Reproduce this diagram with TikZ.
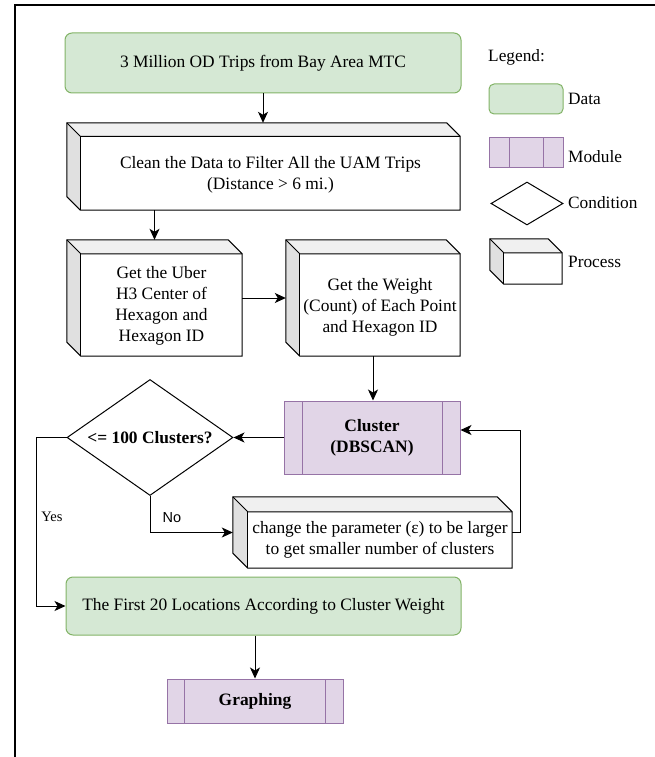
\documentclass[tikz,border=0pt]{standalone}
\usepackage{fontspec}
\setmainfont{Liberation Serif}
\newfontfamily\arialfont{Liberation Sans}
\usetikzlibrary{shapes.geometric,calc,arrows.meta}

\definecolor{datafill}{HTML}{D5E8D4}
\definecolor{dataline}{HTML}{82B366}
\definecolor{modfill}{HTML}{E1D5E7}
\definecolor{modline}{HTML}{9673A6}
\definecolor{cubetop}{HTML}{F0F0F0}
\definecolor{cubeside}{HTML}{E0E0E0}

\begin{document}
\begin{tikzpicture}[x=1pt,y=-1pt,
  every node/.style={font=\fontsize{17.4}{21}\selectfont, inner sep=0pt, align=center},
  datastyle/.style={draw=dataline, fill=datafill, line width=1pt, rounded corners=7pt},
  modstyle/.style={draw=modline, fill=modfill, line width=1pt, path picture={
     \draw[modline, line width=1pt] ([xshift=#1]path picture bounding box.north west) -- ([xshift=#1]path picture bounding box.south west);
     \draw[modline, line width=1pt] ([xshift=-#1]path picture bounding box.north east) -- ([xshift=-#1]path picture bounding box.south east);}},
  cube/.style={inner sep=0pt},
  cond/.style={diamond, draw, line width=1pt, inner sep=0pt},
  arr/.style={line width=1pt, -{Stealth[length=11pt,width=10pt,inset=3pt]}},
  lbl/.style={font=\fontsize{14.5}{17}\selectfont},
  legtext/.style={anchor=west, font=\fontsize{17.3}{20}\selectfont}
]
\useasboundingbox (0,0) rectangle (655,757);

% page frame (left and top edges)
\draw[line width=2pt] (15,757) -- (15,5) -- (655,5);

% ---- main flow: shapes ----
\node[datastyle, minimum width=396, minimum height=60] (src) at (263,63) {3 Million OD Trips from Bay Area MTC};
\node[cube, minimum width=393, minimum height=87] (clean) at (263.5,166.5) {};
\node[cube, minimum width=175, minimum height=116] (hex) at (154.5,298) {};
\node[cube, minimum width=174, minimum height=116] (weight) at (373,298) {};
\node[modstyle=18, minimum width=176, minimum height=73] (cluster) at (372,437.5) {\textbf{Cluster}\\\textbf{(DBSCAN)}};
\node[cond, minimum width=166, minimum height=116] (cond) at (150,437.5) {};
\node (condT) at (150,437.5) {\textbf{<= 100 Clusters?}};
\node[cube, minimum width=279, minimum height=71] (change) at (372.5,532.5) {};
\node[datastyle, minimum width=395, minimum height=58] (top20) at (263.5,606) {The First 20 Locations According to Cluster Weight};
\node[modstyle=17.5, minimum width=176, minimum height=44] (graph) at (255,701) {\textbf{Graphing}};

% ---- legend ----
\node[legtext] (legT) at (488,57) {Legend:};
\node[datastyle, rounded corners=5pt, minimum width=74, minimum height=30] (legData) at (526,99) {};
\node[legtext] (legDataT) at (568,99) {Data};
\node[modstyle=20, minimum width=74, minimum height=30] (legMod) at (526,152) {};
\node[legtext] (legModT) at (568,157) {Module};
\node[cond, minimum width=72, minimum height=43] (legCond) at (527,203.5) {};
\node[legtext] (legCondT) at (568,203) {Condition};
\node[cube, minimum width=72, minimum height=45] (legProc) at (526,261.5) {};
\node[legtext] (legProcT) at (568,262) {Process};

% ---- 3D process boxes: top face, side face, front face ----
\foreach \nm/\dd in {clean/13.5, hex/14, weight/14, change/15, legProc/14}{
  \fill[cubetop] (\nm.north west) -- ($(\nm.north east)+(-\dd,0)$) -- ($(\nm.north east)+(0,\dd)$) -- ($(\nm.north west)+(\dd,\dd)$) -- cycle;
  \fill[cubeside] (\nm.north west) -- ($(\nm.north west)+(\dd,\dd)$) -- ($(\nm.south west)+(\dd,0)$) -- ($(\nm.south west)+(0,-\dd)$) -- cycle;
  \fill[white] ($(\nm.north west)+(\dd,\dd)$) rectangle (\nm.south east);
  \draw[line width=1pt, line join=miter] (\nm.north west) -- ($(\nm.north east)+(-\dd,0)$) -- ($(\nm.north east)+(0,\dd)$) -- (\nm.south east) -- ($(\nm.south west)+(\dd,0)$) -- ($(\nm.south west)+(0,-\dd)$) -- cycle;
  \draw[line width=1pt] (\nm.north west) -- ($(\nm.north west)+(\dd,\dd)$) -- ($(\nm.north east)+(0,\dd)$);
  \draw[line width=1pt] ($(\nm.north west)+(\dd,\dd)$) -- ($(\nm.south west)+(\dd,0)$);
}

% texts on the front faces
\node (cleanT) at (270.5,175) {Clean the Data to Filter All the UAM Trips\\(Distance > 6 mi.)};
\node (hexT) at (161.5,306) {Get the Uber\\H3 Center of\\Hexagon and\\Hexagon ID};
\node (weightT) at (380,307) {Get the Weight\\(Count) of Each Point\\and Hexagon ID};
\node (changeT) at (380,540) {change the parameter (ε) to be larger\\to get smaller number of clusters};

% ---- connectors ----
\draw[arr] (src.south) -- (src.south |- clean.north);
\draw[arr] (hex.north |- clean.south) -- (hex.north);
\draw[arr] (hex.east) -- (weight.west);
\draw[arr] (weight.south) -- (weight.south |- cluster.north);
\draw[arr] (cluster.west) -- (cond.east);
\draw[arr] (cond.south) |- (change.west);
\node[font=\arialfont\fontsize{14.5}{17}\selectfont] (noT) at (172,518) {No};
\coordinate (loopR) at (520,430);
\draw[arr] (change.east) -| (loopR) -- (loopR -| cluster.east);
\coordinate (yesL) at (36,437.5);
\draw[arr] (cond.west) -- (yesL) |- (top20.west);
\node[lbl] (yesT) at (52,517) {Yes};
\draw[arr] (graph.north |- top20.south) -- (graph.north);
\end{tikzpicture}
\end{document}
